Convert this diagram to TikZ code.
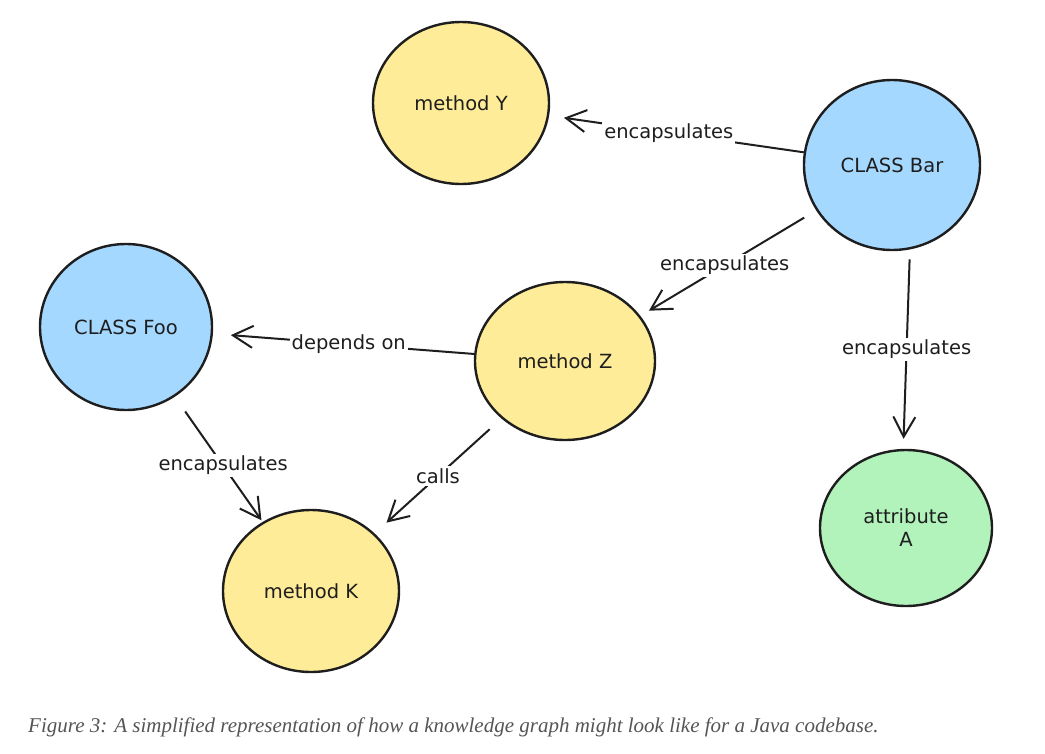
\documentclass[tikz,border=0pt]{standalone}
\usepackage{fontspec}
\setmainfont{DejaVu Sans}
\newfontfamily\capfont{Liberation Serif}
\usetikzlibrary{shapes.geometric,arrows.meta}
\definecolor{ink}{HTML}{1E1E1E}
\definecolor{yel}{HTML}{FFEC99}
\definecolor{blu}{HTML}{A5D8FF}
\definecolor{grn}{HTML}{B2F2BB}
\definecolor{capgray}{HTML}{555555}
\tikzset{
  circ/.style={ellipse, draw=ink, line width=2.4pt, inner sep=0pt, font=\fontsize{19.5}{23}\selectfont, text=ink},
  meth/.style={circ, fill=yel},
  cls/.style={circ, fill=blu},
  attr/.style={circ, fill=grn},
  conn/.style={draw=ink, line width=2pt, -{Straight Barb[length=20pt,width=22pt,line width=2pt]}},
  lbl/.style={fill=white, inner sep=2pt, font=\fontsize{19.5}{23}\selectfont, text=ink}
}
\begin{document}
\begin{tikzpicture}[x=1pt,y=-1pt]
\useasboundingbox (0,0) rectangle (1045,753);
\node[meth, minimum width=176pt, minimum height=162pt] (Y) at (461,103) {method Y};
\node[cls, minimum width=176pt, minimum height=170pt] (Bar) at (892,165) {CLASS Bar};
\node[cls, minimum width=172pt, minimum height=166pt] (Foo) at (126,327) {CLASS Foo};
\node[meth, minimum width=180pt, minimum height=158pt] (Z) at (565,361) {method Z};
\node[attr, minimum width=172pt, minimum height=156pt, align=center] (A) at (906,528) {attribute\\A};
\node[meth, minimum width=176pt, minimum height=162pt] (K) at (311,591) {method K};

\draw[conn, shorten >=15pt] (Bar) -- node[lbl, pos=0.53] {encapsulates} (Y);
\draw[conn, shorten <=14pt, shorten >=10pt] (Bar) -- node[lbl, pos=0.52] {encapsulates} (Z);
\draw[conn, shorten <=10pt, shorten >=10pt] (Bar.-78) -- node[lbl] {encapsulates} (A.92);
\draw[conn, shorten >=18pt] (Z) -- node[lbl, pos=0.48] {depends on} (Foo);
\draw[conn, shorten <=18pt, shorten >=2pt] (Foo) -- node[lbl, pos=0.55] {encapsulates} (K);
\draw[conn, shorten <=16pt, shorten >=16pt] (Z) -- node[lbl] {calls} (K);

\node[anchor=base west, inner sep=0pt, font=\capfont\itshape\fontsize{21}{24}\selectfont, text=capgray] (cap) at (28,732) {Figure 3: A simplified representation of how a knowledge graph might look like for a Java codebase.};
\end{tikzpicture}
\end{document}
